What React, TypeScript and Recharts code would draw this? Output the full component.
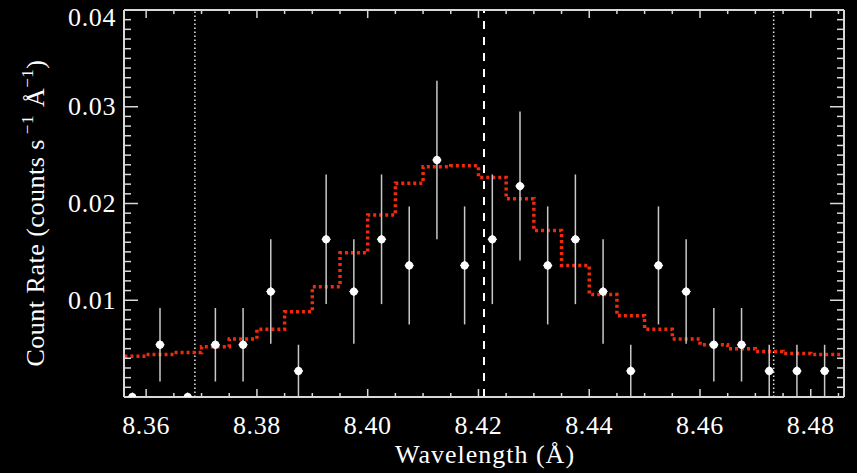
import React from "react";
import { ComposedChart, Scatter, ErrorBar, Line, XAxis, YAxis, ReferenceLine } from "recharts";

// bin centres (Å), measured count rates and 1-sigma errors
const wave = [
  8.3575, 8.3625, 8.3675, 8.3725, 8.3775, 8.3825, 8.3875, 8.3925, 8.3975, 8.4025, 8.4075, 8.4125, 8.4175,
  8.4225, 8.4275, 8.4325, 8.4375, 8.4425, 8.4475, 8.4525, 8.4575, 8.4625, 8.4675, 8.4725, 8.4775, 8.4825,
];
const rate = [
  0, 0.0054, 0, 0.0054, 0.0054, 0.0109, 0.0027, 0.0163, 0.0109, 0.0163, 0.0136, 0.0245, 0.0136,
  0.0163, 0.0218, 0.0136, 0.0163, 0.0109, 0.0027, 0.0136, 0.0109, 0.0054, 0.0054, 0.0027, 0.0027, 0.0027,
];
const rateErr = [
  0, 0.0038, 0, 0.0038, 0.0038, 0.0054, 0.0027, 0.0067, 0.0054, 0.0067, 0.0061, 0.0082, 0.0061,
  0.0067, 0.0077, 0.0061, 0.0067, 0.0054, 0.0027, 0.0061, 0.0054, 0.0038, 0.0038, 0.0027, 0.0027, 0.0027,
];

// model histogram: left bin edges and level
const modelEdge = [
  8.355, 8.36, 8.365, 8.37, 8.375, 8.38, 8.385, 8.39, 8.395, 8.4, 8.405, 8.41, 8.415, 8.42,
  8.425, 8.43, 8.435, 8.44, 8.445, 8.45, 8.455, 8.46, 8.465, 8.47, 8.475, 8.48, 8.49,
];
const modelRate = [
  0.0042, 0.0044, 0.0046, 0.0052, 0.006, 0.007, 0.0088, 0.0114, 0.0149, 0.0188, 0.0221, 0.0238, 0.0239, 0.0227,
  0.0205, 0.0172, 0.0136, 0.0106, 0.0084, 0.007, 0.006, 0.0054, 0.005, 0.0047, 0.0045, 0.0044, 0.0044,
];

const dottedLines = [8.3688, 8.4733];
const dashedLine = 8.421;

const xMajor = [8.36, 8.38, 8.4, 8.42, 8.44, 8.46, 8.48];
const xTicks = [
  8.36, 8.365, 8.37, 8.375, 8.38, 8.385, 8.39, 8.395, 8.4, 8.405, 8.41, 8.415, 8.42,
  8.425, 8.43, 8.435, 8.44, 8.445, 8.45, 8.455, 8.46, 8.465, 8.47, 8.475, 8.48, 8.485,
];
const yMajor = [0.01, 0.02, 0.03, 0.04];
const yTicks = [
  0.001, 0.002, 0.003, 0.004, 0.005, 0.006, 0.007, 0.008, 0.009, 0.01,
  0.011, 0.012, 0.013, 0.014, 0.015, 0.016, 0.017, 0.018, 0.019, 0.02,
  0.021, 0.022, 0.023, 0.024, 0.025, 0.026, 0.027, 0.028, 0.029, 0.03,
  0.031, 0.032, 0.033, 0.034, 0.035, 0.036, 0.037, 0.038, 0.039, 0.04,
];

const points = wave.map((x, i) => ({ x, y: rate[i], err: rateErr[i] }));
const model = modelEdge.map((x, i) => ({ x, m: modelRate[i] }));

const AXIS = "#d8d8d8";
const FONT = "'Liberation Serif', 'Times New Roman', serif";
const isIn = (v: number, list: number[]) => list.some((m) => Math.abs(m - v) < 1e-7);

function XTick(props: any) {
  const { x, y, payload, side } = props;
  const major = isIn(payload.value, xMajor);
  const len = major ? 8 : 4;
  if (side === "top") {
    return <line x1={x} x2={x} y1={y} y2={y + len} stroke={AXIS} strokeWidth={1.5} />;
  }
  return (
    <g>
      <line x1={x} x2={x} y1={y} y2={y - len} stroke={AXIS} strokeWidth={1.5} />
      {major && (
        <text x={x} y={y + 37} textAnchor="middle" fill="#fff" fontFamily={FONT} fontSize={26} letterSpacing={0.6}>
          {payload.value.toFixed(2)}
        </text>
      )}
    </g>
  );
}

function YTick(props: any) {
  const { x, y, payload, side } = props;
  const major = isIn(payload.value, yMajor);
  const len = major ? 14 : 7;
  if (side === "right") {
    return <line x1={x} x2={x - len} y1={y} y2={y} stroke={AXIS} strokeWidth={1.5} />;
  }
  const base = payload.value > 0.0395 ? y + 16 : y + 8.5;
  return (
    <g>
      <line x1={x} x2={x + len} y1={y} y2={y} stroke={AXIS} strokeWidth={1.5} />
      {major && (
        <text x={x - 8} y={base} textAnchor="end" fill="#fff" fontFamily={FONT} fontSize={26} letterSpacing={0.6}>
          {payload.value.toFixed(2)}
        </text>
      )}
    </g>
  );
}

function Marker(props: any) {
  const { cx, cy } = props;
  const r = 4.8;
  return (
    <g>
      <path d={`M${cx},${cy - r}L${cx + r},${cy}L${cx},${cy + r}L${cx - r},${cy}Z`} fill="#fff" />
      <circle cx={cx} cy={cy} r={3.9} fill="#fff" />
    </g>
  );
}

export default function App() {
  return (
    <div style={{ position: "absolute", left: 0, top: 0, width: 857, height: 473, background: "#000" }}>
      <ComposedChart width={857} height={473} margin={{ top: 9, right: 12, bottom: 0, left: 0 }}>
        <XAxis
          xAxisId="b"
          type="number"
          dataKey="x"
          domain={[8.356, 8.486]}
          allowDataOverflow
          ticks={xTicks}
          interval={0}
          height={76}
          tickSize={0}
          tickMargin={0}
          tickLine={false}
          tick={<XTick side="bottom" />}
          axisLine={{ stroke: AXIS, strokeWidth: 2 }}
        />
        <XAxis
          xAxisId="t"
          orientation="top"
          type="number"
          dataKey="x"
          domain={[8.356, 8.486]}
          allowDataOverflow
          ticks={xTicks}
          interval={0}
          height={1}
          tickSize={0}
          tickMargin={0}
          tickLine={false}
          tick={<XTick side="top" />}
          axisLine={{ stroke: AXIS, strokeWidth: 2 }}
        />
        <YAxis
          yAxisId="l"
          type="number"
          domain={[0, 0.04]}
          allowDataOverflow
          ticks={yTicks}
          interval={0}
          width={124}
          tickSize={0}
          tickMargin={0}
          tickLine={false}
          tick={<YTick side="left" />}
          axisLine={{ stroke: AXIS, strokeWidth: 2 }}
        />
        <YAxis
          yAxisId="r"
          orientation="right"
          type="number"
          domain={[0, 0.04]}
          allowDataOverflow
          ticks={yTicks}
          interval={0}
          width={1}
          tickSize={0}
          tickMargin={0}
          tickLine={false}
          tick={<YTick side="right" />}
          axisLine={{ stroke: AXIS, strokeWidth: 2 }}
        />
        {dottedLines.map((v) => (
          <ReferenceLine key={v} x={v} xAxisId="b" yAxisId="l" stroke="#e8e8e8" strokeWidth={1.5} strokeDasharray="1.5 2.5" />
        ))}
        <ReferenceLine x={dashedLine} xAxisId="b" yAxisId="l" stroke="#fff" strokeWidth={2} strokeDasharray="8 8" />
        <Line
          xAxisId="b"
          yAxisId="l"
          data={model}
          dataKey="m"
          type="stepAfter"
          stroke="#f02a0a"
          strokeWidth={3.5}
          strokeDasharray="3 3"
          dot={false}
          isAnimationActive={false}
        />
        <Line
          xAxisId="t"
          yAxisId="r"
          data={model}
          dataKey="m"
          stroke="none"
          dot={false}
          isAnimationActive={false}
        />
        <Scatter xAxisId="b" yAxisId="l" data={points} dataKey="y" shape={<Marker />} isAnimationActive={false}>
          <ErrorBar dataKey="err" direction="y" width={0} stroke="#c8c8c8" strokeWidth={1.5} />
        </Scatter>
      </ComposedChart>
      <svg width={857} height={473} style={{ position: "absolute", left: 0, top: 0, pointerEvents: "none" }}>
        <text x={485} y={463} textAnchor="middle" fill="#fff" fontFamily={FONT} fontSize={26} letterSpacing={1}>
          Wavelength (Å)
        </text>
        <text transform="translate(44, 213) rotate(-90)" textAnchor="middle" fill="#fff" fontFamily={FONT} fontSize={26} letterSpacing={0.5}>
          Count Rate (counts s
          <tspan dx={5} dy={-11} fontSize={17}>−1</tspan>
          <tspan dx={8} dy={11}>Å</tspan>
          <tspan dy={-11} fontSize={17}>−1</tspan>
          <tspan dy={11}>)</tspan>
        </text>
      </svg>
    </div>
  );
}
